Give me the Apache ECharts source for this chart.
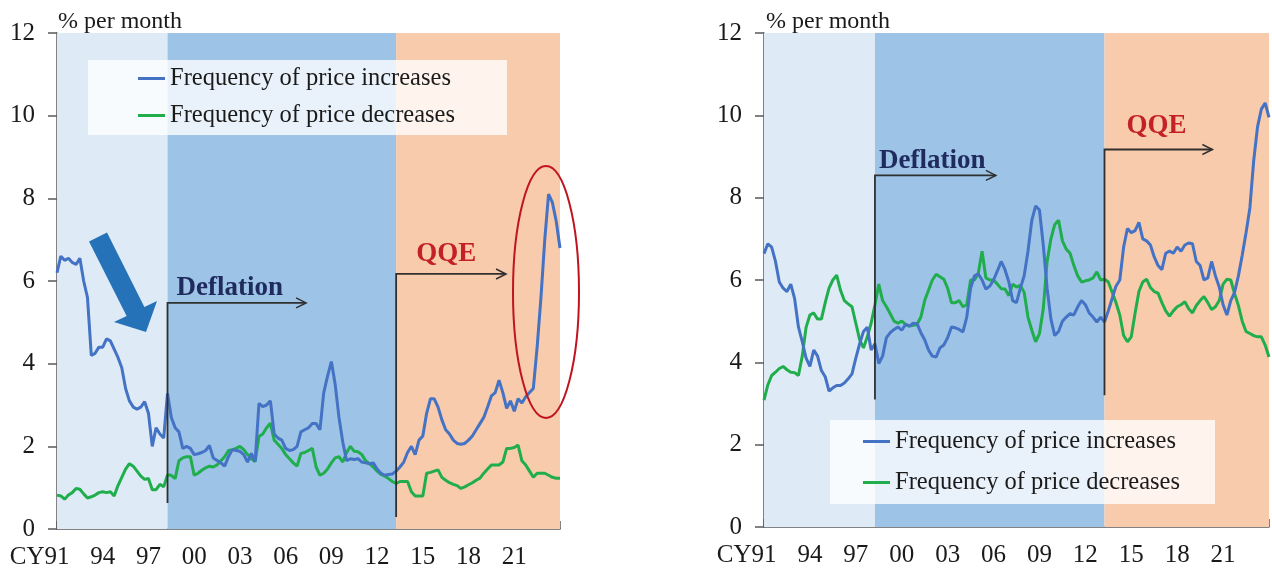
<!DOCTYPE html>
<html>
<head>
<meta charset="utf-8">
<script src="https://cdn.jsdelivr.net/npm/echarts/dist/echarts.min.js"></script>
<style>
html, body { margin: 0; padding: 0; background: #fff; }
#main { width: 1272px; height: 574px; }
</style>
</head>
<body>
<div id="main"></div>
<script>
// quarterly readings, CY1991Q1 .. CY2024Q1
var quarters = [];
for (var q = 0; q <= 132; q++) quarters.push(1991 + q / 4);

// left panel
var leftUp = [
  6.2, 6.6, 6.5, 6.55,  6.45, 6.4, 6.55, 6.0,  5.6, 4.2, 4.25, 4.4,  4.4, 4.6, 4.55, 4.35,
  4.15, 3.9, 3.4, 3.1,  2.95, 2.9, 2.95, 3.08,  2.8, 2.0, 2.45, 2.3,  2.2, 3.28, 2.7, 2.45,
  2.35, 1.95, 2.0, 1.95,  1.8, 1.82, 1.85, 1.9,  2.02, 1.72, 1.66, 1.6,  1.52, 1.75, 1.92, 1.9,
  1.88, 1.8, 1.62, 1.83,  1.63, 3.04, 2.96, 3.0,  3.1, 2.3, 2.2, 2.15,  1.95, 1.9, 1.92, 2.0,
  2.35, 2.4, 2.45, 2.55,  2.55, 2.4, 3.3, 3.7,  4.05, 3.5, 2.7, 2.1,  1.65, 1.7, 1.68, 1.7,
  1.62, 1.6, 1.58, 1.6,  1.45, 1.35, 1.3, 1.32,  1.33, 1.4, 1.5, 1.62,  1.85, 2.0, 1.8, 2.15,
  2.25, 2.8, 3.15, 3.15,  2.95, 2.64, 2.4, 2.3,  2.15, 2.07, 2.05, 2.07,  2.15, 2.25, 2.4, 2.55,
  2.7, 2.95, 3.22, 3.3,  3.6, 3.3, 2.92, 3.1,  2.85, 3.15, 3.05, 3.2,  3.3, 3.4, 4.4, 5.6,
  7.0, 8.1, 7.9, 7.45,  6.8
];
var leftDown = [
  0.82, 0.8, 0.72, 0.82,  0.88, 0.98, 0.96, 0.85,  0.75, 0.78, 0.82, 0.88,  0.9, 0.88, 0.9, 0.8,
  1.05, 1.25, 1.45, 1.58,  1.52, 1.4, 1.28, 1.2,  1.22, 0.95, 0.95, 1.08,  1.02, 1.31, 1.3, 1.22,
  1.65, 1.72, 1.75, 1.75,  1.3, 1.35, 1.42, 1.48,  1.52, 1.5, 1.55, 1.65,  1.75, 1.9, 1.92, 1.95,
  2.0, 1.92, 1.8, 1.7,  1.63, 2.24, 2.3, 2.45,  2.56, 2.15, 2.05, 1.95,  1.8, 1.7, 1.6, 1.52,
  1.83, 1.85, 1.9, 1.95,  1.5, 1.3, 1.35, 1.45,  1.6, 1.72, 1.75, 1.62,  1.85, 2.0, 1.88, 1.87,
  1.8, 1.65, 1.58, 1.5,  1.4, 1.32, 1.28, 1.22,  1.15, 1.1, 1.15, 1.15,  1.15, 0.9, 0.8, 0.8,
  0.8, 1.35, 1.37, 1.4,  1.43, 1.25, 1.18, 1.12,  1.08, 1.05, 0.98, 1.02,  1.07, 1.12, 1.18, 1.23,
  1.35, 1.45, 1.55, 1.55,  1.55, 1.62, 1.95, 1.95,  1.97, 2.03, 1.65, 1.55,  1.4, 1.25, 1.35, 1.35,
  1.35, 1.3, 1.25, 1.23,  1.23
];

// right panel
var rightUp = [
  6.64, 6.88, 6.8, 6.45,  5.95, 5.8, 5.72, 5.9,  5.55, 4.86, 4.5, 4.1,  3.9, 4.3, 4.15, 3.8,
  3.65, 3.3, 3.38, 3.44,  3.44, 3.5, 3.6, 3.72,  4.1, 4.45, 4.75, 4.85,  4.3, 4.45, 3.97, 4.15,
  4.6, 4.72, 4.8, 4.86,  4.78, 4.92, 4.88, 4.95,  4.94, 4.72, 4.55, 4.3,  4.15, 4.13, 4.35, 4.42,
  4.6, 4.86, 4.84, 4.8,  4.74, 5.1, 5.8, 6.1,  6.15, 6.0, 5.78, 5.85,  6.0, 6.22, 6.45, 6.25,
  5.95, 5.5, 5.45, 5.8,  6.1, 6.7, 7.45, 7.8,  7.7, 6.85, 5.8, 5.05,  4.65, 4.75, 5.0, 5.1,
  5.18, 5.15, 5.35, 5.5,  5.4, 5.2, 5.1, 4.98,  5.1, 4.98, 5.25, 5.55,  5.85, 6.0, 6.8, 7.25,
  7.15, 7.2, 7.4, 7.0,  6.95, 6.85, 6.56, 6.35,  6.25, 6.65, 6.7, 6.65,  6.8, 6.7, 6.85, 6.9,
  6.88, 6.45, 6.35, 6.0,  6.05, 6.45, 6.1, 5.83,  5.4, 5.15, 5.5, 5.7,  6.1, 6.6, 7.15, 7.75,
  8.9, 9.72, 10.15, 10.3,  9.95
];
var rightDown = [
  3.08, 3.45, 3.68, 3.76,  3.85, 3.9, 3.82, 3.76,  3.75, 3.68, 4.15, 4.85,  5.15, 5.2, 5.05, 5.05,
  5.45, 5.8, 6.0, 6.12,  5.75, 5.5, 5.42, 5.35,  4.95, 4.55, 4.35, 4.62,  4.95, 5.4, 5.9, 5.5,
  5.35, 5.18, 5.0, 4.95,  5.0, 4.92, 4.88, 4.9,  4.92, 5.1, 5.5, 5.75,  6.0, 6.14, 6.08, 6.02,
  5.8, 5.45, 5.45, 5.5,  5.35, 5.4, 6.0, 6.0,  6.16, 6.7, 6.05, 6.0,  6.0, 5.9, 5.79, 5.78,
  5.62, 5.9, 5.83, 5.87,  5.7, 5.1, 4.78, 4.5,  4.7, 5.3, 6.45, 7.0,  7.35, 7.45, 6.95, 6.75,
  6.65, 6.35, 6.1, 5.95,  5.98, 6.0, 6.05, 6.2,  6.0, 6.02, 5.95, 5.7,  5.45, 5.15, 4.65, 4.5,
  4.62, 5.2, 5.72, 5.95,  6.02, 5.82, 5.72, 5.68,  5.45, 5.25, 5.12, 5.25,  5.35, 5.4, 5.47, 5.3,
  5.2, 5.38, 5.5, 5.6,  5.45, 5.28, 5.35, 5.5,  5.9, 6.02, 6.0, 5.67,  5.38, 5.0, 4.75, 4.7,
  4.65, 4.62, 4.62, 4.42,  4.13
];

var nameUp = 'Frequency of price increases';
var nameDown = 'Frequency of price decreases';
var deflationStart = 1998.25;
var qqeStart = 2013.25;

var FONT = '"Liberation Serif", "Times New Roman", serif';
var TXT = '#1a1a1a';
var AXIS = '#595959';
var BLUE = '#4472c4';
var GREEN = '#1fae4b';

function pairs(arr) {
  return quarters.map(function (x, i) { return [x, arr[i]]; });
}

function xAxisOf(idx) {
  return {
    type: 'value', gridIndex: idx, min: 1991, max: 2024, interval: 1,
    axisLine: { lineStyle: { color: AXIS, width: 1.5 } },
    axisTick: { inside: true, length: 8, lineStyle: { color: AXIS, width: 1.5 } },
    splitLine: { show: false },
    axisLabel: {
      margin: 16, fontSize: 25, fontFamily: FONT, color: TXT,
      formatter: function (v) {
        if (v >= 2024 || (v - 1991) % 3 !== 0) return '';
        if (v === 1991) return '{a|CY}91{b|CY}';
        return String(v).slice(2);
      },
      rich: {
        a: { fontSize: 25, fontFamily: FONT, color: TXT },
        b: { fontSize: 25, fontFamily: FONT, color: 'rgba(0,0,0,0)' }
      }
    }
  };
}

function yAxisOf(idx) {
  return {
    type: 'value', gridIndex: idx, min: 0, max: 12, interval: 2,
    axisLine: { show: true, lineStyle: { color: AXIS, width: 1.5 } },
    axisTick: { show: true, length: 9, lineStyle: { color: AXIS, width: 1.5 } },
    splitLine: { show: false },
    axisLabel: { margin: 22, fontSize: 25, fontFamily: FONT, color: TXT }
  };
}

function shading(idx) {
  return {
    type: 'line', xAxisIndex: idx, yAxisIndex: idx, data: [], z: 1, silent: true,
    markArea: {
      silent: true,
      data: [
        [{ xAxis: 1991, itemStyle: { color: '#deebf7' } }, { xAxis: deflationStart }],
        [{ xAxis: deflationStart, itemStyle: { color: '#9dc3e6' } }, { xAxis: qqeStart }],
        [{ xAxis: qqeStart, itemStyle: { color: '#f8cbad' } }, { xAxis: 2024 }]
      ]
    }
  };
}

function lineOf(name, arr, color, idx) {
  return {
    name: name, type: 'line', xAxisIndex: idx, yAxisIndex: idx,
    data: pairs(arr), showSymbol: false, symbol: 'none', z: 3,
    lineStyle: { color: color, width: 3 }, itemStyle: { color: color }
  };
}

function legendOf(left, top, padding, gap) {
  return {
    orient: 'vertical', left: left, top: top, padding: padding, itemGap: gap,
    icon: 'rect', itemWidth: 27, itemHeight: 3,
    backgroundColor: 'rgba(255,255,255,0.78)',
    textStyle: { fontSize: 24.5, fontFamily: FONT, color: TXT },
    data: [nameUp, nameDown], selectedMode: false
  };
}

var chart = echarts.init(document.getElementById('main'));
chart.setOption({
  animation: false,
  grid: [
    { left: 57, top: 33, width: 503, height: 496 },
    { left: 764, top: 33, width: 510, height: 494 }
  ],
  xAxis: [xAxisOf(0), xAxisOf(1)],
  yAxis: [yAxisOf(0), yAxisOf(1)],
  legend: [
    legendOf(88, 60, [6, 52, 7, 50], 12),
    legendOf(830, 420, [9, 35, 9, 33], 16)
  ],
  series: [
    shading(0),
    shading(1),
    lineOf(nameDown, leftDown, GREEN, 0),
    lineOf(nameUp, leftUp, BLUE, 0),
    lineOf(nameDown, rightDown, GREEN, 1),
    lineOf(nameUp, rightUp, BLUE, 1)
  ]
});

// annotation arrows, anchored in data coordinates
var notes = [
  { grid: 0, x: deflationStart, y0: 0.63, y1: 5.47, xEnd: 2007.34, text: 'Deflation', color: '#1f2b5e', dx: 9, dy: -15 },
  { grid: 0, x: qqeStart, y0: 0.29, y1: 6.17, xEnd: 2020.46, text: 'QQE', color: '#c42127', dx: 20, dy: -20 },
  { grid: 1, x: deflationStart, y0: 3.1, y1: 8.54, xEnd: 2006.15, text: 'Deflation', color: '#1f2b5e', dx: 4, dy: -14 },
  { grid: 1, x: qqeStart, y0: 3.2, y1: 9.17, xEnd: 2020.3, text: 'QQE', color: '#c42127', dx: 22, dy: -23 }
];

var graphics = [];
notes.forEach(function (n) {
  var a = chart.convertToPixel({ gridIndex: n.grid }, [n.x, n.y0]);
  var b = chart.convertToPixel({ gridIndex: n.grid }, [n.x, n.y1]);
  var c = chart.convertToPixel({ gridIndex: n.grid }, [n.xEnd, n.y1]);
  graphics.push({
    type: 'polyline', z: 10,
    shape: { points: [a, b, c] },
    style: { stroke: '#303030', lineWidth: 1.8, fill: null }
  });
  graphics.push({
    type: 'polyline', z: 10,
    shape: { points: [[c[0] - 10, c[1] - 5], c, [c[0] - 10, c[1] + 5]] },
    style: { stroke: '#303030', lineWidth: 1.5, fill: null }
  });
  graphics.push({
    type: 'text', z: 10,
    style: {
      x: b[0] + n.dx, y: b[1] + n.dy, text: n.text,
      font: 'bold 27px ' + FONT, fill: n.color, textVerticalAlign: 'middle'
    }
  });
});

// unit labels
graphics.push({ type: 'text', z: 10, style: { x: 58, y: 22, text: '% per month', font: '24px ' + FONT, fill: TXT, textVerticalAlign: 'middle' } });
graphics.push({ type: 'text', z: 10, style: { x: 766, y: 22, text: '% per month', font: '24px ' + FONT, fill: TXT, textVerticalAlign: 'middle' } });

// the big downward arrow and the red ring on the left panel
graphics.push({
  type: 'polygon', z: 10,
  shape: { points: [[89, 241.5], [107, 232.5], [144.4, 307], [157, 301], [146, 332], [114, 322], [126.6, 316]] },
  style: { fill: '#2672b8' }
});
graphics.push({
  type: 'ellipse', z: 10,
  shape: { cx: 546, cy: 292, rx: 33, ry: 126 },
  style: { stroke: '#c0141e', lineWidth: 2, fill: null }
});

chart.setOption({ graphic: graphics });
</script>
</body>
</html>
